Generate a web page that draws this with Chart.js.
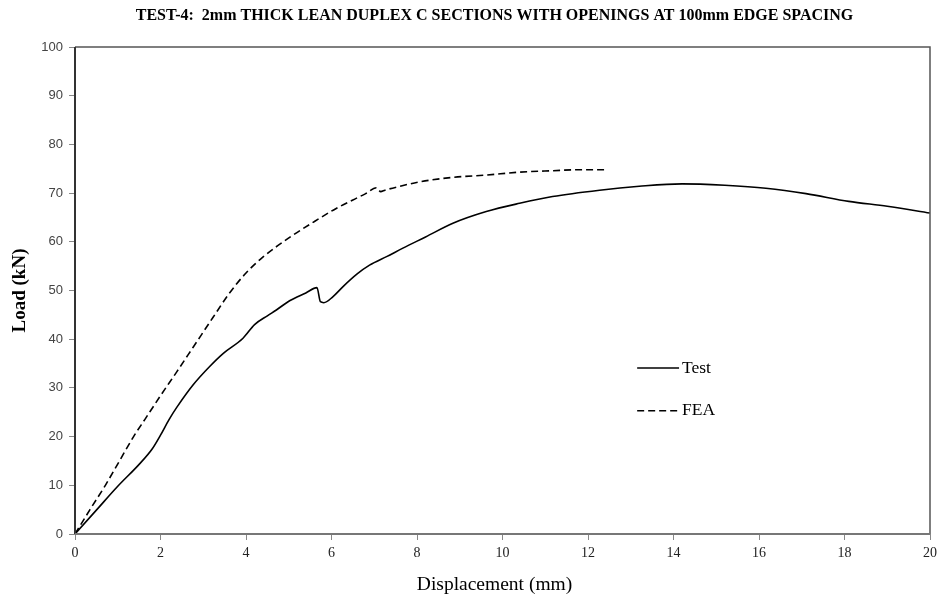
<!DOCTYPE html>
<html>
<head>
<meta charset="utf-8">
<script src="https://cdn.jsdelivr.net/npm/chart.js@4/dist/chart.umd.min.js"></script>
<style>
html,body{margin:0;padding:0;background:#fff;}
#wrap{width:942px;height:598px;position:relative;}
</style>
</head>
<body>
<div id="wrap"><canvas id="c" width="942" height="598"></canvas></div>
<script>
const titleText = "TEST-4:  2mm THICK LEAN DUPLEX C SECTIONS WITH OPENINGS AT 100mm EDGE SPACING";
const xTitle = "Displacement (mm)";
const yTitle = "Load (kN)";
const seriesNames = ["Test", "FEA"];

const testDisp = [0, 0.5, 1.0, 1.5, 1.8, 2.0, 2.2, 2.38, 2.76, 3.15, 3.47, 3.93, 4.2, 4.5, 4.71, 5.02, 5.4, 5.66, 5.74, 5.82, 6.03, 6.27, 6.6, 6.89, 7.3, 7.67, 8.2, 8.84, 9.62, 10.4, 11.17, 12.27, 13.2, 14.2, 15.2, 16.16, 17.1, 18.1, 19.0, 20.0];
const testLoad = [0, 4.9, 9.8, 14.3, 17.4, 20.3, 23.5, 26.0, 30.6, 34.4, 37.1, 40.2, 43.0, 44.8, 46.0, 47.9, 49.5, 50.6, 47.7, 47.5, 48.7, 50.8, 53.4, 55.2, 57.0, 58.7, 61.0, 63.8, 66.2, 67.9, 69.3, 70.6, 71.4, 71.9, 71.6, 71.0, 69.9, 68.3, 67.3, 65.9];

const feaDisp = [0, 0.35, 0.71, 1.04, 1.37, 1.64, 2.0, 2.38, 2.76, 3.23, 3.6, 4.0, 4.4, 5.02, 5.57, 6.1, 6.5, 6.8, 7.05, 7.15, 7.25, 7.6, 8.06, 8.8, 9.62, 10.4, 11.17, 11.8, 12.43];
const feaLoad = [0, 5.0, 10.0, 15.0, 20.0, 23.6, 28.4, 33.3, 38.3, 44.5, 49.3, 53.6, 56.9, 60.9, 64.0, 66.8, 68.6, 69.9, 71.1, 70.3, 70.6, 71.4, 72.3, 73.2, 73.7, 74.3, 74.6, 74.8, 74.8];

const xTicks = [0, 2, 4, 6, 8, 10, 12, 14, 16, 18, 20];
const yTicks = [0, 10, 20, 30, 40, 50, 60, 70, 80, 90, 100];

function pts(xs, ys){ return xs.map((x,i)=>({x:x, y:ys[i]})); }

const SERIF = '"Liberation Serif", "Times New Roman", serif';
const SANS = '"Liberation Sans", Arial, sans-serif';

const framePlugin = {
  id: 'frame',
  afterDatasetsDraw(chart){
    const {ctx, chartArea:a} = chart;
    ctx.save();
    ctx.strokeStyle = '#555';
    ctx.lineWidth = 1.5;
    ctx.beginPath();
    ctx.moveTo(a.left, a.top); ctx.lineTo(a.right, a.top); ctx.lineTo(a.right, a.bottom);
    ctx.stroke();
    ctx.strokeStyle = '#333';
    ctx.lineWidth = 2;
    ctx.beginPath();
    ctx.moveTo(a.left, a.top); ctx.lineTo(a.left, a.bottom);
    ctx.stroke();
    ctx.strokeStyle = '#777';
    ctx.lineWidth = 2;
    ctx.beginPath();
    ctx.moveTo(a.left, a.bottom); ctx.lineTo(a.right, a.bottom);
    ctx.stroke();
    ctx.restore();
  },
  afterDraw(chart){
    const {ctx, chartArea:a} = chart;
    const cx = (a.left + a.right)/2 - 8;
    ctx.save();
    ctx.fillStyle = '#000';
    ctx.textAlign = 'center';
    ctx.textBaseline = 'middle';
    // chart title
    ctx.font = 'bold 16px ' + SERIF;
    ctx.fillText(titleText, cx, 16);
    // axis titles
    ctx.font = '19.5px ' + SERIF;
    ctx.fillText(xTitle, cx, 585);
    ctx.save();
    ctx.translate(20, (a.top + a.bottom)/2);
    ctx.rotate(-Math.PI/2);
    ctx.font = 'bold 19px ' + SERIF;
    ctx.fillText(yTitle, 0, 0);
    ctx.restore();
    // legend
    const xs = chart.scales.x, ys = chart.scales.y;
    const lx0 = xs.getPixelForValue(13.15), lx1 = xs.getPixelForValue(14.13);
    const rows = [{name: seriesNames[0], y: ys.getPixelForValue(34.1), dash: []},
                  {name: seriesNames[1], y: ys.getPixelForValue(25.3), dash: [7,4]}];
    ctx.font = '17.5px ' + SERIF;
    ctx.textAlign = 'left';
    rows.forEach(r=>{
      ctx.strokeStyle = '#000';
      ctx.lineWidth = 1.5;
      ctx.setLineDash(r.dash);
      ctx.beginPath(); ctx.moveTo(lx0, r.y); ctx.lineTo(lx1, r.y); ctx.stroke();
      ctx.setLineDash([]);
      ctx.fillStyle = '#000';
      ctx.fillText(r.name, lx1 + 3, r.y);
    });
    ctx.restore();
  }
};

new Chart(document.getElementById('c'), {
  type: 'scatter',
  data: {
    datasets: [
      {label: seriesNames[0], data: pts(testDisp, testLoad), showLine: true, borderColor: '#000', borderWidth: 1.6, pointRadius: 0, cubicInterpolationMode: 'monotone', fill: false},
      {label: seriesNames[1], data: pts(feaDisp, feaLoad), showLine: true, borderColor: '#000', borderWidth: 1.6, borderDash: [7,4], pointRadius: 0, cubicInterpolationMode: 'monotone', fill: false}
    ]
  },
  options: {
    responsive: false,
    animation: false,
    layout: {padding: {left: 0, right: 10, top: 47, bottom: 0}},
    plugins: {legend: {display: false}, title: {display: false}, tooltip: {enabled: false}},
    scales: {
      x: {
        type: 'linear', min: 0, max: 20,
        afterBuildTicks(s){ s.ticks = xTicks.map(v=>({value:v})); },
        afterFit(s){ s.height = 64; },
        border: {display: false},
        grid: {drawOnChartArea: false, drawTicks: true, tickLength: 6, color: '#888', lineWidth: 1},
        ticks: {font: {family: SERIF, size: 14}, color: '#222', padding: 5, maxRotation: 0},
        title: {display: false}
      },
      y: {
        type: 'linear', min: 0, max: 100,
        afterBuildTicks(s){ s.ticks = yTicks.map(v=>({value:v})); },
        afterFit(s){ s.width = 75; },
        border: {display: false},
        grid: {drawOnChartArea: false, drawTicks: true, tickLength: 6, color: '#888', lineWidth: 1},
        ticks: {font: {family: SANS, size: 13}, color: '#444', padding: 6},
        title: {display: false}
      }
    }
  },
  plugins: [framePlugin]
});
</script>
</body>
</html>
